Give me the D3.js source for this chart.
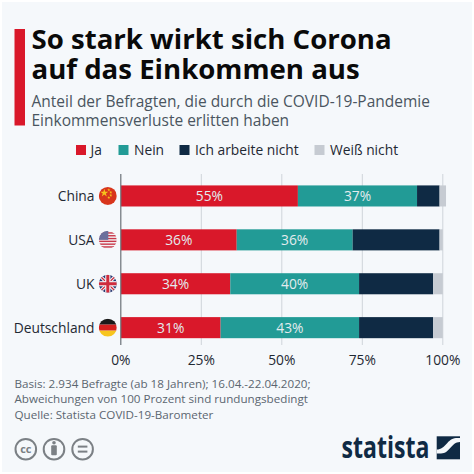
<!DOCTYPE html>
<html><head><meta charset="utf-8">
<script src="https://cdn.jsdelivr.net/npm/d3@7/dist/d3.min.js"></script>
<style>
html,body{margin:0;padding:0;background:#fff}
svg{display:block}
text{font-family:"Open Sans",sans-serif}
</style></head><body>
<svg id="c" width="474" height="474"></svg>
<script>
const titleLines = ["So stark wirkt sich Corona", "auf das Einkommen aus"];
const subtitleLines = ["Anteil der Befragten, die durch die COVID-19-Pandemie", "Einkommensverluste erlitten haben"];
const footLines = ["Basis: 2.934 Befragte (ab 18 Jahren); 16.04.-22.04.2020;", "Abweichungen von 100 Prozent sind rundungsbedingt", "Quelle: Statista COVID-19-Barometer"];
const countries = ["China", "USA", "UK", "Deutschland"];
const seriesNames = ["Ja", "Nein", "Ich arbeite nicht", "Weiß nicht"];
const seriesColors = ["#d9182a", "#229b96", "#0f2a44", "#c6cbd2"];
const ja = [55, 36, 34, 31];
const nein = [37, 36, 40, 43];
const arbeiteNicht = [7, 27, 23, 23];
const weissNicht = [2, 1, 3, 3];
const ticks = [0, 25, 50, 75, 100];

const svg = d3.select("#c");
svg.append("rect").attr("x",2).attr("y",2).attr("width",470).attr("height",470).attr("fill","#f5f8fb");

// Header
svg.append("rect").attr("x",14.5).attr("y",29).attr("width",10.5).attr("height",96.5).attr("fill","#d9182a");
svg.selectAll(".t").data(titleLines).join("text").attr("x",31.5).attr("y",(d,i)=>[48.8,79.3][i])
  .attr("font-size",27.6).attr("font-weight",700).attr("fill","#0a0a0a").text(d=>d);
svg.selectAll(".s").data(subtitleLines).join("text").attr("x",31.5).attr("y",(d,i)=>[106.8,125.8][i])
  .attr("font-size",15.5).attr("fill","#4a5560").text(d=>d);

// Legend
const legendX = [76, 118.5, 179.5, 314.5];
const legendTextX = [90.5, 134, 195, 330];
const lg = svg.append("g").selectAll("g").data(seriesNames).join("g");
lg.append("rect").attr("x",(d,i)=>legendX[i]).attr("y",145).attr("width",10).attr("height",10).attr("fill",(d,i)=>seriesColors[i]);
lg.append("text").attr("x",(d,i)=>legendTextX[i]).attr("y",155).attr("font-size",13.8).attr("fill","#1f2933").text(d=>d);

// Chart
const x = d3.scaleLinear().domain([0,100]).range([120.8,442.8]);
const y = d3.scaleBand().domain(countries).range([174,349.6]).paddingInner(0.52).paddingOuter(0.26);
const gridTop = 174, gridBottom = 345;

svg.append("g").selectAll("line").data(ticks.slice(1)).join("line")
  .attr("x1",d=>x(d)).attr("x2",d=>x(d)).attr("y1",gridTop).attr("y2",gridBottom)
  .attr("stroke","#cfd4da").attr("stroke-width",1);

const rows = countries.map((c,i)=>({c, v:[ja[i],nein[i],arbeiteNicht[i],weissNicht[i]]}));
const stacked = rows.map(r=>{let a=0;return r.v.map((v,k)=>{const o={c:r.c,k,v,a,b:a+v};a+=v;return o;});});

svg.append("g").selectAll("g").data(stacked).join("g").selectAll("rect").data(d=>d).join("rect")
  .attr("x",d=>x(d.a)).attr("width",d=>x(d.b)-x(d.a))
  .attr("y",d=>y(d.c)).attr("height",y.bandwidth())
  .attr("fill",d=>seriesColors[d.k]);

svg.append("g").selectAll("g").data(stacked).join("g").selectAll("text").data(d=>d.slice(0,2)).join("text")
  .attr("x",d=>x((d.a+d.b)/2)).attr("y",d=>y(d.c)+y.bandwidth()/2+5)
  .attr("text-anchor","middle").attr("font-size",13.8).attr("fill","#e3ebee").text(d=>d.v+"%");

svg.append("line").attr("x1",x(0)).attr("x2",x(0)).attr("y1",gridTop).attr("y2",gridBottom)
  .attr("stroke","#6b7178").attr("stroke-width",1.2);

// x tick labels
svg.append("g").selectAll("text").data(ticks).join("text")
  .attr("x",d=>x(d)).attr("y",365).attr("text-anchor","middle").attr("font-size",13.8).attr("fill","#1f2933").text(d=>d+"%");

// Country labels
svg.append("g").selectAll("text").data(countries).join("text")
  .attr("x",94.5).attr("y",d=>y(d)+y.bandwidth()/2+5.2).attr("text-anchor","end").attr("font-size",13.8).attr("fill","#1f2933").text(d=>d);

// Flags
const defs = svg.append("defs");
countries.forEach((c,i)=>{
  const cy = y(c)+y.bandwidth()/2, cx = 107.8;
  defs.append("clipPath").attr("id","f"+i).append("circle").attr("cx",cx).attr("cy",cy).attr("r",9);
  const g = svg.append("g").attr("clip-path",`url(#f${i})`);
  const R=(x0,y0,w,h,col)=>g.append("rect").attr("x",cx+x0).attr("y",cy+y0).attr("width",w).attr("height",h).attr("fill",col);
  if(c==="China"){
    R(-9,-9,18,18,"#d8351c");
    const star=(dx,dy,r)=>g.append("path").attr("transform",`translate(${cx+dx},${cy+dy})`).attr("d",d3.symbol(d3.symbolStar,r*r*3)()).attr("fill","#f6c21c");
    star(-3.5,-3,2.6); star(1,-6,1); star(3,-3.6,1); star(3,-0.6,1); star(1,1.6,1);
  } else if(c==="USA"){
    R(-9,-9,18,18,"#f4f4f6");
    [-7.6,-4.8,-2,0.8,3.6,6.4].forEach(s=>R(-9,s,18,1.4,"#c8384a"));
    R(-9,-9,9.5,9,"#6a6f9c");
  } else if(c==="UK"){
    R(-9,-9,18,18,"#26356f");
    g.append("path").attr("d",`M${cx-9} ${cy-9}L${cx+9} ${cy+9}M${cx+9} ${cy-9}L${cx-9} ${cy+9}`).attr("stroke","#f2f2f4").attr("stroke-width",3.4);
    g.append("path").attr("d",`M${cx-9} ${cy-9}L${cx+9} ${cy+9}M${cx+9} ${cy-9}L${cx-9} ${cy+9}`).attr("stroke","#cf2b3c").attr("stroke-width",1.2);
    R(-9,-2.6,18,5.2,"#f2f2f4"); R(-2.6,-9,5.2,18,"#f2f2f4");
    R(-9,-1.5,18,3,"#cf2b3c"); R(-1.5,-9,3,18,"#cf2b3c");
  } else {
    R(-9,-9,18,6,"#1a1a1a"); R(-9,-3,18,6,"#d4201f"); R(-9,3,18,6,"#f7c51e");
  }
});

// Footer
svg.selectAll(".f").data(footLines).join("text").attr("x",14.5).attr("y",(d,i)=>[388.3,402.8,419.3][i])
  .attr("font-size",11.65).attr("fill","#5b6670").text(d=>d);

// Licence icons
[[25.8,"cc"],[54,"by"],[82.6,"="]].forEach(([cx,k])=>{
  svg.append("circle").attr("cx",cx).attr("cy",449.2).attr("r",10.3).attr("fill","none").attr("stroke","#7b8085").attr("stroke-width",2);
  if(k==="cc") svg.append("text").attr("x",cx).attr("y",453).attr("text-anchor","middle").attr("font-size",11).attr("font-weight",700).attr("fill","#7b8085").text("cc");
  if(k==="by"){
    svg.append("circle").attr("cx",cx).attr("cy",442.8).attr("r",1.8).attr("fill","#7b8085");
    svg.append("rect").attr("x",cx-2.8).attr("y",445.2).attr("width",5.6).attr("height",10).attr("rx",1).attr("fill","#7b8085");
  }
  if(k==="="){
    svg.append("rect").attr("x",cx-4.8).attr("y",445.6).attr("width",9.6).attr("height",2).attr("fill","#7b8085");
    svg.append("rect").attr("x",cx-4.8).attr("y",450.6).attr("width",9.6).attr("height",2).attr("fill","#7b8085");
  }
});

// Logo
svg.append("text").attr("x",341.5).attr("y",458.4).attr("font-size",30).attr("font-weight",700)
  .attr("textLength",88).attr("lengthAdjust","spacingAndGlyphs").attr("fill","#0f2a44").text("statista");
svg.append("rect").attr("x",436.7).attr("y",436.3).attr("width",23.3).attr("height",23).attr("fill","#0f2a44");
svg.append("path").attr("d","M436.7 453.5 L436.7 449.5 C446 449.5 447 438.5 456 438 L460 438 L460 442 C451 442 450 453.5 441 453.5 Z").attr("fill","#f5f8fb");
</script>
</body></html>
